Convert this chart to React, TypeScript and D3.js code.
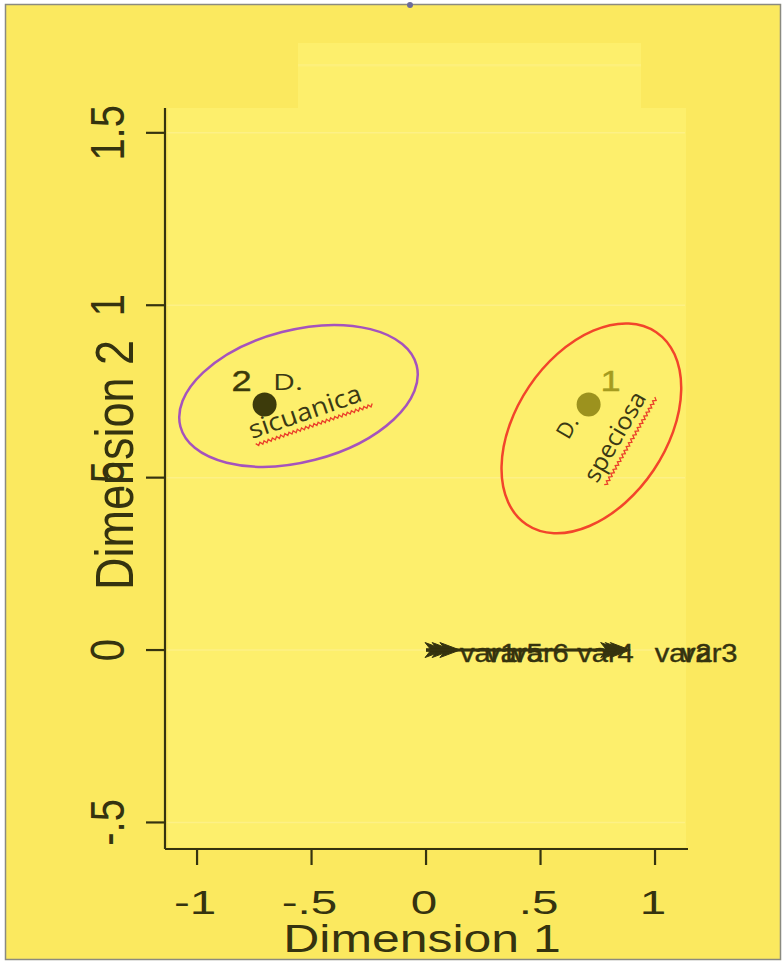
import React from "react";
import * as d3 from "d3";

// ---- data ----
const xTicks = [-1, -0.5, 0, 0.5, 1];
const xTickLabels = ["-1", "-.5", "0", ".5", "1"];
const yTicks = [-0.5, 0, 0.5, 1, 1.5];
const yTickLabels = ["-.5", "0", ".5", "1", "1.5"];

const catLabels = ["1", "2"];
const catDim1 = [0.71, -0.705];
const catDim2 = [0.712, 0.712];
const speciesNames = ["speciosa", "sicuanica"];

const ellipseDim1 = [0.722, -0.557];
const ellipseDim2 = [0.643, 0.737];

const varNames = ["var1", "var5", "var6", "var4", "var2", "var3"];
const varDim1 = [0.083, 0.114, 0.148, 0.85, 0.87, 0.892];
const varDim2 = [0, 0, 0, 0, 0, 0];
const varLabelDim1 = [0.148, 0.262, 0.376, 0.66, 0.999, 1.113];

// ---- styles ----
const W = 783;
const H = 963;
const FONT = "'Liberation Sans', Arial, sans-serif";
const ANNOT_FONT = "'Open Sans', 'Noto Sans', sans-serif";
const DARK = "#35330f";
const BG = "#fbe95f";
const PLOT_BG = "#fdef6c";
const catColors = ["#9c921e", "#3d3b0b"];
const catLabelColors = ["#a59b1f", "#3b3a0a"];
const ellipseColors = ["#f2452b", "#a553bd"];
const ellipseRx = [116, 122];
const ellipseRy = [75, 66];
const ellipseRot = [-56, -14.5];

function wavy(len: number) {
  const pts: [number, number][] = d3.range(0, Math.floor(len / 2.2) + 1).map((i) => [i * 2.2, i % 2 ? 1.4 : -1.4]);
  return d3.line()(pts) || "";
}

export default function App() {
  const x = d3.scaleLinear().domain([-1.14, 1.144]).range([165, 688]);
  const y = d3.scaleLinear().domain([-0.577, 1.572]).range([849, 108]);
  const [x0, x1] = x.range();
  const [y0, y1] = y.range();

  return (
    <svg width={W} height={H} style={{ position: "absolute", left: 0, top: 0, display: "block" }}>
      <rect x={0} y={0} width={W} height={H} fill="#ffffff" />
      <rect x={5.5} y={4.5} width={775} height={955} fill={BG} stroke="#8a8a80" strokeWidth={1.5} />
      <circle cx={410} cy={5} r={3} fill="#6b6b9c" />
      {/* faint top block */}
      <rect x={298} y={43} width={343} height={65} fill={PLOT_BG} />
      <rect x={298} y={64} width={343} height={2.5} fill="#fff3a0" opacity={0.3} />
      {/* plot region */}
      <rect x={x0 + 3} y={y1} width={x1 - x0 - 5} height={y0 - y1 - 2} fill={PLOT_BG} />
      {yTicks.map((t, i) => (
        <line key={"g" + i} x1={x0 + 2} x2={x1 - 3} y1={y(t)} y2={y(t)} stroke="#fff4a6" strokeWidth={1.5} opacity={0.45} />
      ))}

      {/* ellipses */}
      {ellipseDim1.map((d, i) => (
        <ellipse
          key={"e" + i}
          cx={0}
          cy={0}
          rx={ellipseRx[i]}
          ry={ellipseRy[i]}
          transform={`translate(${x(d)},${y(ellipseDim2[i])}) rotate(${ellipseRot[i]})`}
          fill="none"
          stroke={ellipseColors[i]}
          strokeWidth={2.5}
        />
      ))}

      {/* variable labels */}
      {varNames.map((n, i) => (
        <text
          key={"vl" + i}
          fontFamily={FONT}
          fontSize={26}
          fill={DARK}
          stroke={DARK}
          strokeWidth={0.4}
          transform={`translate(${x(varLabelDim1[i])},${y(varDim2[i]) + 12}) scale(1.12,1)`}
        >
          {n}
        </text>
      ))}
      {/* variable arrows */}
      {varDim1.map((d, i) => {
        const tx = x(d);
        const ty = y(varDim2[i]);
        const ox = x(0);
        return (
          <g key={"a" + i}>
            <line x1={ox} x2={tx - 4} y1={ty} y2={ty} stroke={DARK} strokeWidth={2.5} />
            <path
              d={`M${tx},${ty} L${tx - 20},${ty - 7.5} L${tx - 14},${ty} L${tx - 20},${ty + 7.5} Z`}
              fill={DARK}
              stroke={DARK}
              strokeWidth={1}
              strokeLinejoin="round"
            />
          </g>
        );
      })}

      {/* category points */}
      {catDim1.map((d, i) => {
        const lx = x(d) + (i === 0 ? 22 : -23);
        return (
          <g key={"c" + i}>
            <circle cx={x(d)} cy={y(catDim2[i])} r={12} fill={catColors[i]} />
            <text
              textAnchor="middle"
              fontFamily={FONT}
              fontSize={29}
              fill={catLabelColors[i]}
              stroke={catLabelColors[i]}
              strokeWidth={0.4}
              transform={`translate(${lx},${y(catDim2[i]) - 14}) scale(1.25,1)`}
            >
              {catLabels[i]}
            </text>
          </g>
        );
      })}

      {/* annotations: D. sicuanica */}
      <text x={273} y={390} fontFamily={ANNOT_FONT} fontSize={21} fill="#3a3914" textLength={30} lengthAdjust="spacingAndGlyphs">
        D.
      </text>
      <g transform="translate(252,439) rotate(-19)">
        <text x={0} y={0} fontFamily={ANNOT_FONT} fontSize={25} fill="#3a3914" textLength={118} lengthAdjust="spacingAndGlyphs">
          {speciesNames[1]}
        </text>
        <path d={wavy(124)} transform="translate(2,7)" fill="none" stroke="#ea3f2a" strokeWidth={1.3} />
      </g>
      {/* annotations: D. speciosa */}
      <g transform="translate(567,427) rotate(-60)">
        <text x={0} y={8} textAnchor="middle" fontFamily={ANNOT_FONT} fontSize={22} fill="#3a3914">
          D.
        </text>
      </g>
      <g transform="translate(597,484) rotate(-60)">
        <text x={0} y={0} fontFamily={ANNOT_FONT} fontSize={24} fill="#3a3914" textLength={100} lengthAdjust="spacingAndGlyphs">
          {speciesNames[0]}
        </text>
        <path d={wavy(102)} transform="translate(3,8)" fill="none" stroke="#ea3f2a" strokeWidth={1.3} />
      </g>

      {/* axes */}
      <line x1={x0} x2={x0} y1={y1} y2={y0} stroke={DARK} strokeWidth={2.2} />
      <line x1={x0} x2={x1} y1={y0} y2={y0} stroke={DARK} strokeWidth={2.2} />
      {yTicks.map((t, i) => (
        <g key={"yt" + i}>
          <line x1={x0 - 19} x2={x0} y1={y(t)} y2={y(t)} stroke={DARK} strokeWidth={2.2} />
          <text
            textAnchor="middle"
            fontFamily={FONT}
            fontSize={40}
            fill={DARK}
            transform={`translate(124,${y(t)}) scale(1.2,1) rotate(-90)`}
          >
            {yTickLabels[i]}
          </text>
        </g>
      ))}
      {xTicks.map((t, i) => (
        <g key={"xt" + i}>
          <line x1={x(t)} x2={x(t)} y1={y0} y2={y0 + 16} stroke={DARK} strokeWidth={2.2} />
          <text
            textAnchor="middle"
            fontFamily={FONT}
            fontSize={34}
            fill={DARK}
            transform={`translate(${x(t) - 2},914) scale(1.4,1)`}
          >
            {xTickLabels[i]}
          </text>
        </g>
      ))}
      <text textAnchor="middle" fontFamily={FONT} fontSize={39} fill={DARK} transform="translate(422,952) scale(1.28,1)">
        Dimension 1
      </text>
      <text textAnchor="middle" fontFamily={FONT} fontSize={45} fill={DARK} transform="translate(133,465) scale(1.2,1) rotate(-90)">
        Dimension 2
      </text>
    </svg>
  );
}
